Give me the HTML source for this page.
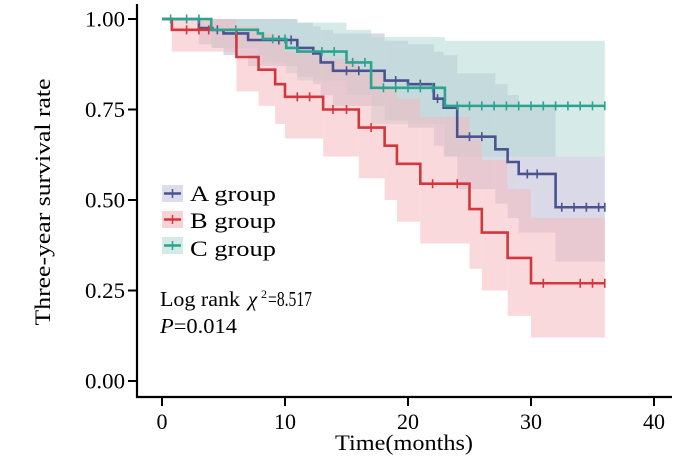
<!DOCTYPE html>
<html><head><meta charset="utf-8"><style>
html,body{margin:0;padding:0;background:#fff;}
svg{display:block;font-family:"Liberation Serif",serif;}
</style></head><body>
<svg id="chart" width="700" height="464" viewBox="0 0 700 464">
<g id="bands"></g>
<g id="lines"></g>
<g id="axes"></g>
<g>
 <g>
  <rect x="162" y="185" width="21" height="17" fill="#dcdcec"/>
  <line x1="164" y1="193.5" x2="181" y2="193.5" stroke="#4a5390" stroke-width="2.5"/><line x1="172.5" y1="189" x2="172.5" y2="198" stroke="#4a5390" stroke-width="1.5"/>
  <text x="190" y="201" font-size="22" textLength="86" lengthAdjust="spacingAndGlyphs">A group</text>
 </g>
 <g>
  <rect x="162" y="211" width="21" height="17" fill="#f8d3d6"/>
  <line x1="164" y1="219.5" x2="181" y2="219.5" stroke="#d2373d" stroke-width="2.5"/><line x1="172.5" y1="215" x2="172.5" y2="224" stroke="#d2373d" stroke-width="1.5"/>
  <text x="190" y="228" font-size="22" textLength="86" lengthAdjust="spacingAndGlyphs">B group</text>
 </g>
 <g>
  <rect x="162" y="237" width="21" height="17" fill="#d3ebe6"/>
  <line x1="164" y1="245.5" x2="181" y2="245.5" stroke="#2aa390" stroke-width="2.5"/><line x1="172.5" y1="241" x2="172.5" y2="250" stroke="#2aa390" stroke-width="1.5"/>
  <text x="190" y="256" font-size="22" textLength="86" lengthAdjust="spacingAndGlyphs">C group</text>
 </g>
</g>
<g>
<text x="160" y="306" font-size="21" textLength="80" lengthAdjust="spacingAndGlyphs">Log rank</text>
<text x="248" y="306" font-size="21" font-style="italic">χ</text>
<text x="261" y="298" font-size="12">2</text>
<text x="268" y="306" font-size="21" textLength="44" lengthAdjust="spacingAndGlyphs">=8.517</text>
</g>
<text x="160" y="333" font-size="21" textLength="77" lengthAdjust="spacingAndGlyphs"><tspan font-style="italic">P</tspan>=0.014</text>
<text transform="translate(50,202) rotate(-90)" text-anchor="middle" font-size="22" textLength="247" lengthAdjust="spacingAndGlyphs">Three-year survival rate</text>
<text x="404" y="450" text-anchor="middle" font-size="22" textLength="138" lengthAdjust="spacingAndGlyphs">Time(months)</text>
</svg>
<script>
const xTicks=[0,10,20,30,40];
const yTicks=[0,0.25,0.5,0.75,1];
const yTickLabels=["0.00","0.25","0.50","0.75","1.00"];
const aTimes=[0,3.0,4.1,5,7,11,12.3,12.9,13.9,18.1,20,22.1,22.9,24,27.1,28.1,29,32];
const aSurv=[1,0.975,0.97,0.96,0.942,0.92,0.905,0.88,0.857,0.83,0.82,0.78,0.755,0.675,0.64,0.605,0.572,0.48];
const aLo=[1,0.93,0.92,0.90,0.87,0.84,0.82,0.79,0.76,0.72,0.70,0.65,0.62,0.53,0.49,0.45,0.41,0.33];
const aHi=[1,1,1,1,1,0.99,0.98,0.97,0.96,0.94,0.93,0.91,0.90,0.85,0.82,0.79,0.76,0.62];
const aCens=[4.5,6,9.5,10.5,15,16,17,19,21,22.4,25,26,29.7,30.5,32.5,33.5,34.5,35.5,36];
const bTimes=[0,0.8,6.05,7.85,9.2,10,13.1,16,18.1,19.1,21,25,26,28.1,30];
const bSurv=[1,0.97,0.895,0.86,0.82,0.785,0.75,0.70,0.65,0.60,0.545,0.475,0.41,0.34,0.27];
const bLo=[1,0.91,0.80,0.76,0.71,0.67,0.62,0.56,0.50,0.44,0.38,0.31,0.25,0.18,0.12];
const bHi=[1,1,0.98,0.96,0.94,0.91,0.89,0.85,0.81,0.78,0.73,0.67,0.61,0.53,0.45];
const bCens=[2,3,3.8,11,12,13.9,15,17,22,24,31,34,35,36];
const cTimes=[0,4,7.8,8.2,10.1,11,15,17,23];
const cSurv=[1,0.97,0.96,0.945,0.92,0.91,0.88,0.81,0.76];
const cLo=[1,0.92,0.90,0.88,0.85,0.83,0.79,0.71,0.62];
const cHi=[1,1,1,1,1,0.99,0.97,0.95,0.94];
const cCens=[0.7,2,3,6,9,10,13,14,15.5,16.5,18,19,20,21,22,24,25,26,27,28,29,30,31,32,33,34,35,36];
const tMax=36;
const NS='http://www.w3.org/2000/svg';
function xs(t){return 162+t*12.3;}
function ys(v){return 381-v*362;}
function mk(tag,attrs,parent){const e=document.createElementNS(NS,tag);for(const k in attrs)e.setAttribute(k,attrs[k]);parent.appendChild(e);return e;}
function stepVal(times,vals,t){let v=vals[0];for(let i=0;i<times.length;i++){if(times[i]<=t)v=vals[i];}return v;}
const bands=document.getElementById('bands'),lines=document.getElementById('lines'),axes=document.getElementById('axes');
function drawBand(times,lo,hi,fill,name){
  for(let i=0;i<times.length;i++){
    const t0=times[i],t1=i<times.length-1?times[i+1]:tMax;
    const r=mk('rect',{x:xs(t0),y:ys(hi[i]),width:xs(t1)-xs(t0),height:ys(lo[i])-ys(hi[i]),fill:fill,'fill-opacity':0.55},bands);
    
    
  }
}
function drawLine(times,surv,cens,color,name){
  let d='M'+xs(0)+','+ys(surv[0]);
  for(let i=1;i<times.length;i++){d+=' H'+xs(times[i])+' V'+ys(surv[i]);}
  d+=' H'+xs(tMax);
  const p=mk('path',{d:d,fill:'none',stroke:color,'stroke-width':2.6},lines);
  
  
  cens.forEach(t=>{const y=ys(stepVal(times,surv,t));
    const m=mk('line',{x1:xs(t),x2:xs(t),y1:y-4.5,y2:y+4.5,stroke:color,'stroke-width':1.6},lines);
    
    
  });
}
drawBand(aTimes,aLo,aHi,'#b9bad4','group-a');
drawBand(cTimes,cLo,cHi,'#b5dbd6','group-c');
drawBand(bTimes,bLo,bHi,'#f4b9bf','group-b');
drawLine(aTimes,aSurv,aCens,'#4a5390','group-a');
drawLine(bTimes,bSurv,bCens,'#d2373d','group-b');
drawLine(cTimes,cSurv,cCens,'#2aa390','group-c');
const yl=mk('line',{x1:137,x2:137,y1:4,y2:398,stroke:'#000','stroke-width':2.2},axes);


const xl=mk('line',{x1:136,x2:672,y1:397,y2:397,stroke:'#000','stroke-width':2.2},axes);


yTicks.forEach((v,i)=>{
  const tk=mk('line',{x1:128,x2:137,y1:ys(v),y2:ys(v),stroke:'#000','stroke-width':2},axes);
  
  
  const tx=mk('text',{x:125,y:ys(v)+7.5,'text-anchor':'end','font-size':22,textLength:40,lengthAdjust:'spacingAndGlyphs'},axes);
  tx.textContent=yTickLabels[i];
  
  
});
xTicks.forEach(v=>{
  const tk=mk('line',{x1:xs(v),x2:xs(v),y1:397,y2:406,stroke:'#000','stroke-width':2},axes);
  
  
  const tx=mk('text',{x:xs(v),y:429,'text-anchor':'middle','font-size':22},axes);
  tx.textContent=String(v);
  
  
});
</script>
</body></html>
